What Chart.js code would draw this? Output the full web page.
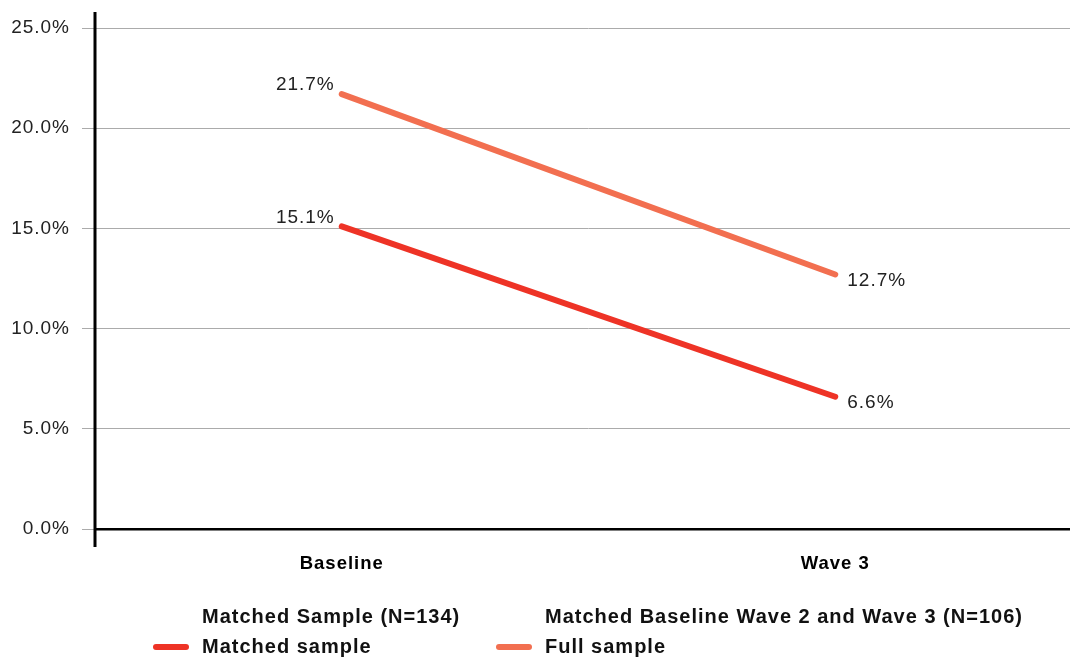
<!DOCTYPE html>
<html>
<head>
<meta charset="utf-8">
<script src="https://cdn.jsdelivr.net/npm/chart.js@4/dist/chart.umd.min.js"></script>
<style>
  html, body { margin: 0; padding: 0; overflow: hidden; background: #fff; }
  #wrap { position: relative; width: 1082px; height: 657px; }
</style>
</head>
<body>
<div id="wrap"><canvas id="c"></canvas></div>
<script>
// Data
const categories = ['Baseline', 'Wave 3'];
const seriesNames = ['Matched sample', 'Full sample'];
const matchedSample = [15.1, 6.6];
const fullSample = [21.7, 12.7];
const legendHeaders = ['Matched Sample (N=134)', 'Matched Baseline Wave 2 and Wave 3 (N=106)'];
const yTickValues = [0, 5, 10, 15, 20, 25];

// Styling
const COLORS = ['#EE3326', '#F26F50'];
const FONT = '"Liberation Sans", Arial, Helvetica, sans-serif';
const SPACING = '1px';

// Slightly open tracking for all canvas text
const trackingPlugin = {
  id: 'tracking',
  beforeDraw(chart) { chart.ctx.letterSpacing = SPACING; },
  afterDraw(chart) { chart.ctx.letterSpacing = '0px'; }
};

// Tall vertical axis line that overshoots the plot area
const yAxisLinePlugin = {
  id: 'yAxisLine',
  afterDraw(chart) {
    const { ctx, chartArea } = chart;
    ctx.save();
    ctx.strokeStyle = '#000';
    ctx.lineWidth = 3;
    ctx.beginPath();
    ctx.moveTo(chartArea.left, 12);
    ctx.lineTo(chartArea.left, chartArea.bottom + 18);
    ctx.stroke();
    ctx.restore();
  }
};

// Percent labels beside each point
const valueLabelPlugin = {
  id: 'valueLabels',
  afterDatasetsDraw(chart) {
    const { ctx } = chart;
    ctx.save();
    ctx.letterSpacing = SPACING;
    ctx.font = '19px ' + FONT;
    ctx.fillStyle = '#222';
    ctx.textBaseline = 'middle';
    chart.data.datasets.forEach((ds, di) => {
      const meta = chart.getDatasetMeta(di);
      meta.data.forEach((pt, i) => {
        const txt = ds.data[i].toFixed(1) + '%';
        if (i === 0) {
          ctx.textAlign = 'right';
          ctx.fillText(txt, pt.x - 7, pt.y - 9);
        } else {
          ctx.textAlign = 'left';
          ctx.fillText(txt, pt.x + 12, pt.y + 6);
        }
      });
    });
    ctx.restore();
  }
};

// Legend with a header line above each entry
const legendTextX = [202, 545];
const headerLegendPlugin = {
  id: 'headerLegend',
  afterDraw(chart) {
    const { ctx } = chart;
    const hY = chart.height - 40;
    const iY = chart.height - 10;
    ctx.save();
    ctx.letterSpacing = SPACING;
    ctx.font = 'bold 20px ' + FONT;
    ctx.fillStyle = '#111';
    ctx.textAlign = 'left';
    ctx.textBaseline = 'middle';
    chart.data.datasets.forEach((ds, di) => {
      const x = legendTextX[di];
      ctx.fillText(legendHeaders[di], x, hY);
      ctx.strokeStyle = ds.borderColor;
      ctx.lineWidth = 6;
      ctx.lineCap = 'round';
      ctx.beginPath();
      ctx.moveTo(x - 46, iY);
      ctx.lineTo(x - 16, iY);
      ctx.stroke();
      ctx.fillText(ds.label, x, iY);
    });
    ctx.restore();
  }
};

new Chart(document.getElementById('c'), {
  type: 'line',
  data: {
    labels: categories,
    datasets: [
      {
        label: seriesNames[0],
        data: matchedSample,
        borderColor: COLORS[0],
        backgroundColor: COLORS[0],
        borderWidth: 6,
        borderCapStyle: 'round',
        pointRadius: 0,
        tension: 0
      },
      {
        label: seriesNames[1],
        data: fullSample,
        borderColor: COLORS[1],
        backgroundColor: COLORS[1],
        borderWidth: 6,
        borderCapStyle: 'round',
        pointRadius: 0,
        tension: 0
      }
    ]
  },
  options: {
    responsive: true,
    maintainAspectRatio: false,
    animation: false,
    layout: { padding: { top: 28, left: 0, right: 0, bottom: 0 } },
    plugins: {
      legend: { display: false },
      tooltip: { enabled: false }
    },
    scales: {
      x: {
        offset: true,
        grid: { display: false, drawTicks: false },
        border: { display: true, color: '#000', width: 2.5 },
        ticks: {
          color: '#000',
          font: { family: FONT, size: 18.5, weight: 'bold' },
          padding: 24
        },
        afterFit(scale) { scale.height = 128; }
      },
      y: {
        min: 0,
        max: 25,
        afterBuildTicks(scale) {
          scale.ticks = yTickValues.map(v => ({ value: v }));
        },
        grid: { color: '#ababab', lineWidth: 1, tickLength: 13, drawTicks: true },
        border: { display: false },
        ticks: {
          color: '#222',
          font: { family: FONT, size: 19 },
          padding: 12,
          callback: v => Number(v).toFixed(1) + '%'
        },
        afterFit(scale) { scale.width = 95; }
      }
    }
  },
  plugins: [trackingPlugin, yAxisLinePlugin, valueLabelPlugin, headerLegendPlugin]
});
</script>
</body>
</html>
